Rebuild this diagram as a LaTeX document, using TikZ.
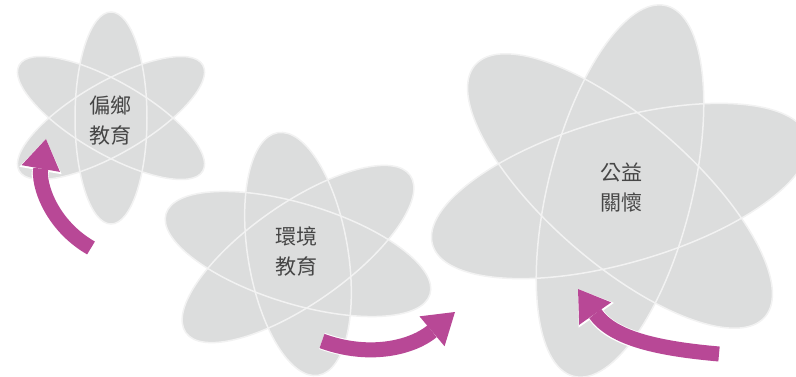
\documentclass[tikz,border=0pt]{standalone}
\usepackage{fontspec}
\newfontfamily\cjk{Noto Sans CJK TC}
\usetikzlibrary{arrows.meta}
\definecolor{atomgray}{RGB}{220,221,221}
\definecolor{rimgray}{RGB}{242,242,242}
\definecolor{labelgray}{RGB}{70,70,70}
\definecolor{flowpink}{RGB}{184,72,150}

\begin{document}
\begin{tikzpicture}[x=1pt, y=-1pt,
    petal/.style={fill=atomgray},
    rim/.style={draw=rimgray, line width=1.5pt},
    tag/.style={font=\cjk\fontsize{21}{30}\selectfont, text=labelgray, align=center},
    flow/.style={draw=flowpink, line width=15pt,
                 -{Triangle[length=30pt, width=39pt, line width=0pt]},
                 preaction={draw=white, line width=17pt,
                            -{Triangle[length=32pt, width=43pt, line width=0pt]}}}]
  \useasboundingbox (0,0) rectangle (796,377);
  \clip (0,0) rectangle (796,377);

  % atom centres
  \coordinate (c1) at (111,118);
  \coordinate (c2) at (298,254);
  \coordinate (c3) at (620,191);

  % orbits: angle/semi-major/semi-minor
  \foreach \c/\orbits in {c1/{90/106/36,30/106/36,150/106/36},
                          c2/{99.5/123/50,35/137/50,163/138/50},
                          c3/{76/191/72,139/192/72,16/195/72}} {
    \foreach \ang/\a/\b in \orbits
      \fill[petal] (\c) ellipse[x radius=\a, y radius=\b, rotate=\ang];
    \foreach \ang/\a/\b in \orbits
      \draw[rim] (\c) ellipse[x radius=\a, y radius=\b, rotate=\ang];
  }

  \node[tag] (rural) at (110.5,121) {偏鄉\\教育};
  \node[tag] (green) at (296.5,252) {環境\\教育};
  \node[tag] (care)  at (621.5,188) {公益\\關懷};

  % curved arrows
  \coordinate (f1s) at (91,248);
  \coordinate (f1e) at (46,139);
  \coordinate (f2s) at (322,341);
  \coordinate (f2e) at (455,312);
  \coordinate (f3s) at (719,354);
  \coordinate (f3e) at (578,289);
  \draw[flow] (f1s) to[out=150, in=-100] (f1e);
  \draw[flow] (f2s) to[out=-20, in=-140] (f2e);
  \draw[flow] (f3s) to[out=175, in=-55] (f3e);
\end{tikzpicture}
\end{document}
